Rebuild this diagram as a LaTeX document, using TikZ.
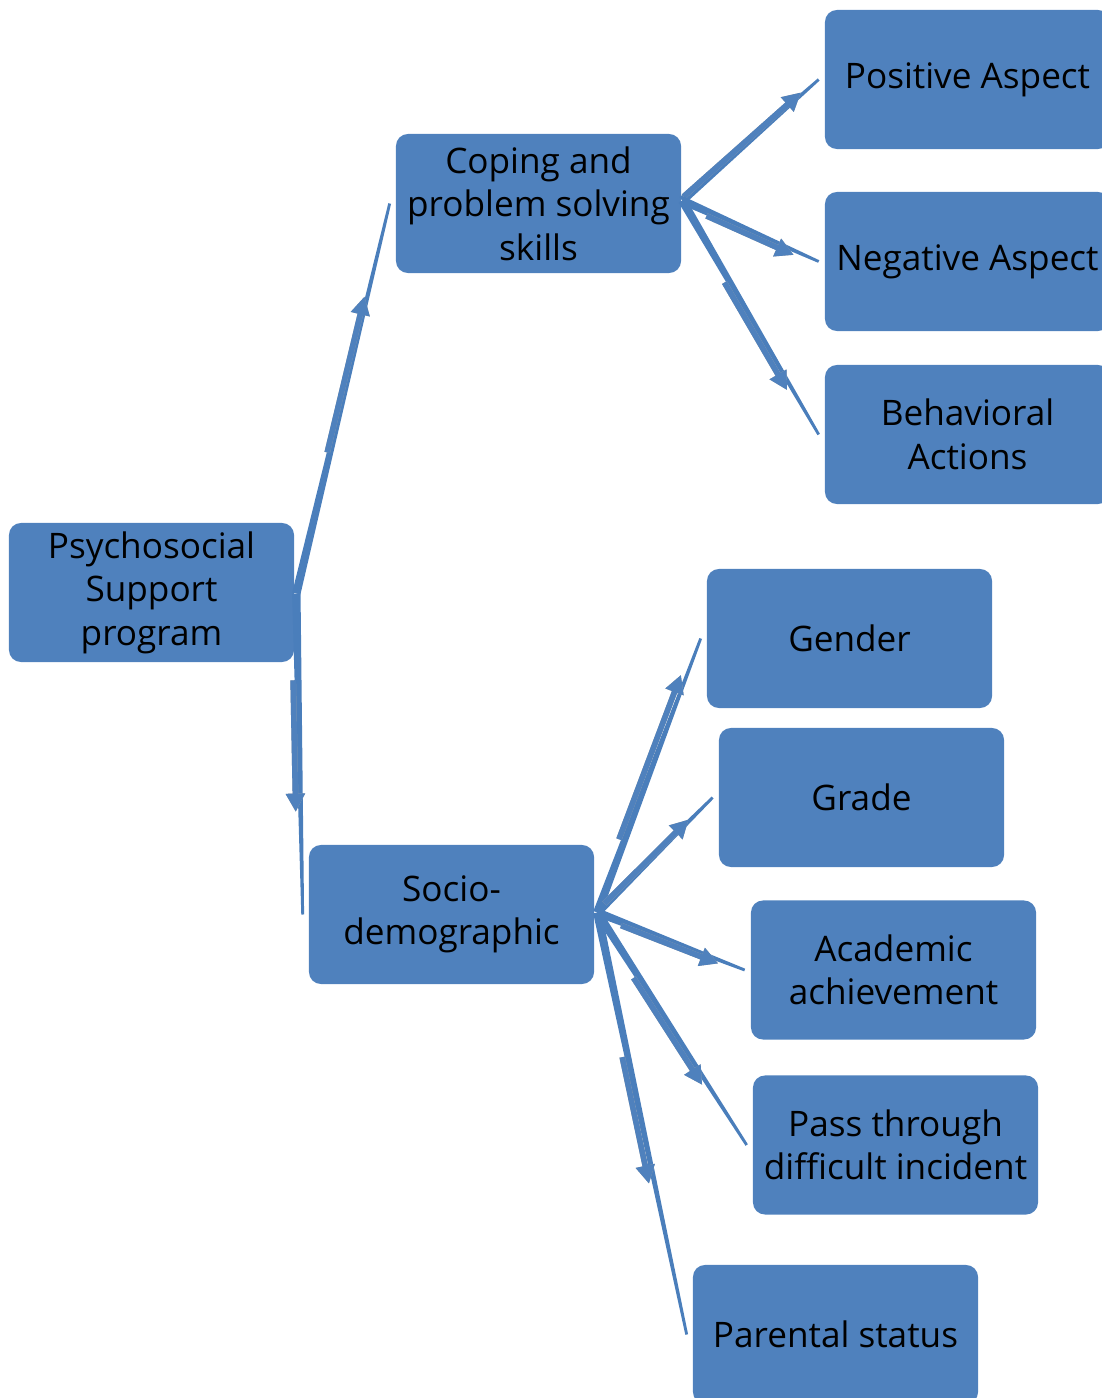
\documentclass[tikz,border=0pt]{standalone}
\usepackage{fontspec}
\setmainfont{Open Sans}
\usetikzlibrary{calc,arrows.meta}
\definecolor{boxblue}{HTML}{4F81BD}
\definecolor{lineblue}{HTML}{4A7EBB}

\tikzset{
	item/.style={fill=boxblue, rounded corners=8.5pt, minimum width=7.125cm,
		minimum height=3.475cm, inner sep=0pt, align=center, text=black,
		font=\fontsize{25}{31}\selectfont},
	conn/.style={fill=lineblue},
	arr/.style={draw=boxblue, line width=4pt, -{Triangle[length=13pt,width=13pt]}},
	arrshade/.style={arr, draw=gray!70, shift={(1.5,1.5)}}
}

\begin{document}
\begin{tikzpicture}[x=0.025cm, y=-0.025cm]
				\useasboundingbox (0,0) rectangle (1102,1398);
				\clip (0,0) rectangle (1102,1398);
				
				% Boxes
				\node[item] (psy) at (151.5,592.5) {Psychosocial\\Support\\program};
				\node[item] (cop) at (538.5,203.5) {Coping and\\problem solving\\skills};
				\node[item] (soc) at (451.5,914.5) {Socio-\\demographic};
				\node[item] (pos) at (967.5,79.5) {Positive Aspect};
				\node[item] (neg) at (967.5,261.5) {Negative Aspect};
				\node[item] (beh) at (967.5,434.5) {Behavioral\\Actions};
				\node[item] (gen) at (849.5,638.5) {Gender};
				\node[item] (gra) at (861.5,797.5) {Grade};
				\node[item] (aca) at (893.5,970) {Academic\\achievement};
				\node[item] (pas) at (895.5,1145) {Pass through\\difficult incident};
				\node[item] (par) at (835.5,1334.5) {Parental status};
				
				% Connector ends
				\coordinate (psy-o) at ($(psy.east)+(2,1)$);
				\coordinate (cop-o) at ($(cop.east)+(1,-3)$);
				\coordinate (soc-o) at ($(soc.east)+(3,-2)$);
				\foreach \n in {cop,soc,pos,neg,beh,gen,gra,aca,pas,par}
				\coordinate (\n-in) at ($(\n.west)+(-6,0)$);
				
				% Connectors
				\foreach \a/\b/\s/\e/\o in {psy-o/cop-in/0.36/0.76/2,
					psy-o/soc-in/0.27/0.68/-3.5,
					cop-o/pos-in/0.02/0.88/1.5,
					cop-o/neg-in/0.19/0.83/-3,
					cop-o/beh-in/0.34/0.8/-3.5,
					soc-o/gen-in/0.26/0.86/4,
					soc-o/gra-in/0.07/0.8/1,
					soc-o/aca-in/0.17/0.83/-2.5,
					soc-o/pas-in/0.27/0.73/-3.5,
					soc-o/par-in/0.34/0.64/-4}{
					\fill[conn] ($(\a)!3pt!90:(\b)$) -- ($(\b)!1pt!-90:(\a)$)
					-- ($(\b)!1pt!90:(\a)$) -- ($(\a)!3pt!-90:(\b)$) -- cycle;
					\draw[arrshade] ($(\a)!\s!(\b)!\o pt!90:(\b)$) -- ($(\a)!\e!(\b)!\o pt!-90:(\a)$);
					\draw[arr] ($(\a)!\s!(\b)!\o pt!90:(\b)$) -- ($(\a)!\e!(\b)!\o pt!-90:(\a)$);
				}
			\end{tikzpicture}
\end{document}
